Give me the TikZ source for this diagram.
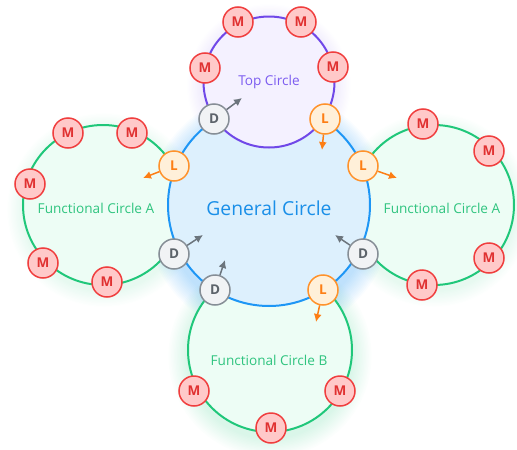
\documentclass[tikz,border=0pt]{standalone}
\usepackage{fontspec}
\setmainfont{Open Sans}
\usepackage{tikz}
\usetikzlibrary{arrows.meta, positioning}
\definecolor{genLine}{RGB}{30,150,245}
\definecolor{genFill}{RGB}{221,240,253}
\definecolor{genText}{RGB}{26,143,232}
\definecolor{topLine}{RGB}{112,72,232}
\definecolor{topFill}{RGB}{244,241,255}
\definecolor{topText}{RGB}{124,92,240}
\definecolor{funcLine}{RGB}{32,199,122}
\definecolor{funcFill}{RGB}{237,253,245}
\definecolor{funcText}{RGB}{47,196,127}
\definecolor{memLine}{RGB}{240,62,62}
\definecolor{memFill}{RGB}{255,201,201}
\definecolor{memText}{RGB}{224,49,49}
\definecolor{leadLine}{RGB}{255,146,43}
\definecolor{leadFill}{RGB}{255,240,217}
\definecolor{leadText}{RGB}{253,126,20}
\definecolor{delLine}{RGB}{134,142,150}
\definecolor{delFill}{RGB}{241,243,245}
\definecolor{delText}{RGB}{92,99,106}
\definecolor{arrGray}{RGB}{108,117,125}
\definecolor{arrOrange}{RGB}{253,126,20}
\tikzset{
    ring/.style={circle, line width=2pt, inner sep=0pt},
    circLabel/.style={font=\fontsize{13.6}{15}\selectfont},
    member/.style={circle, draw=memLine, fill=memFill, line width=1.5pt, minimum size=30pt, inner sep=0pt, text=memText, font=\bfseries\fontsize{13.5}{13.5}\selectfont},
    lead/.style={circle, draw=leadLine, fill=leadFill, line width=1.5pt, minimum size=30pt, inner sep=0pt, text=leadText, font=\bfseries\fontsize{13.5}{13.5}\selectfont},
    deleg/.style={circle, draw=delLine, fill=delFill, line width=1.5pt, minimum size=30pt, inner sep=0pt, text=delText, font=\bfseries\fontsize{13.5}{13.5}\selectfont},
    grayArrow/.style={-{Latex[length=8pt,width=8pt]}, line width=1.5pt, draw=arrGray, fill=arrGray},
    orangeArrow/.style={-{Latex[length=8pt,width=8pt]}, line width=1.5pt, draw=arrOrange, fill=arrOrange}
}

\begin{document}
\begin{tikzpicture}[x=1pt, y=-1pt]
    \useasboundingbox (0,0) rectangle (517,450);

    % soft glows
    \foreach \r in {1,...,14} {
        \fill[genLine, opacity=0.022] (269,214) circle (101+1.6*\r);
        \fill[funcLine, opacity=0.010] (270,356) circle (82+1.4*\r);
        \fill[funcLine, opacity=0.008] (104,210) circle (80+1.2*\r);
        \fill[funcLine, opacity=0.008] (434,210) circle (80+1.2*\r);
        \fill[topLine, opacity=0.008] (269,86) circle (65+1.2*\r);
    }

    % circles
    \node[ring, draw=funcLine, fill=funcFill, minimum size=160pt] (funcA) at (103,205) {};
    \node[ring, draw=funcLine, fill=funcFill, minimum size=160pt] (funcA2) at (434,205) {};
    \node[ring, draw=funcLine, fill=funcFill, minimum size=164pt] (funcB) at (270,350) {};
    \node[ring, draw=genLine, fill=genFill, minimum size=202pt] (general) at (269,205) {};
    \node[ring, draw=topLine, fill=topFill, minimum size=131pt] (top) at (269,82) {};

    % labels
    \node[font=\fontsize{19.3}{22}\selectfont, text=genText] (generalLbl) at (269,208) {General Circle};
    \node[circLabel, text=topText] (topLbl) at (269,82) {Top Circle};
    \node[circLabel, text=funcText] (funcALbl) at (96,208) {Functional Circle A};
    \node[circLabel, text=funcText] (funcA2Lbl) at (442,208) {Functional Circle A};
    \node[circLabel, text=funcText] (funcBLbl) at (269,360) {Functional Circle B};

    % members
    \node[member] (mT1) at (238,22) {M};
    \node[member] (mT2) at (301,22) {M};
    \node[member] (mT3) at (205,68) {M};
    \node[member] (mT4) at (333,67) {M};

    \node[member] (mA1) at (68,133) {M};
    \node[member] (mA2) at (132,133) {M};
    \node[member] (mA3) at (30,184) {M};
    \node[member] (mA4) at (43,263) {M};
    \node[member] (mA5) at (107,282) {M};

    \node[member] (mR1) at (423,124) {M};
    \node[member] (mR2) at (489,151) {M};
    \node[member] (mR3) at (489,258) {M};
    \node[member] (mR4) at (422,285) {M};

    \node[member] (mB1) at (194,391) {M};
    \node[member] (mB2) at (340,391) {M};
    \node[member] (mB3) at (271,428) {M};

    % links and delegates
    \node[deleg] (dTop) at (214,119) {D};
    \node[lead] (lTop) at (325,119) {L};
    \node[lead] (lLeft) at (174,166) {L};
    \node[lead] (lRight) at (363,166) {L};
    \node[deleg] (dLeft) at (174,254) {D};
    \node[deleg] (dRight) at (363,254) {D};
    \node[deleg] (dBot) at (215,290) {D};
    \node[lead] (lBot) at (323,290) {L};

    % arrow ends
    \coordinate (dTopTip) at (242,98);
    \coordinate (lTopTip) at (322,150);
    \coordinate (lLeftTip) at (143,178);
    \coordinate (lRightTip) at (397,178);
    \coordinate (dLeftTip) at (203,235);
    \coordinate (dRightTip) at (335,235);
    \coordinate (dBotTip) at (225,260);
    \coordinate (lBotTip) at (316,322);

    \draw[grayArrow] (dTop) -- (dTopTip);
    \draw[grayArrow] (dLeft) -- (dLeftTip);
    \draw[grayArrow] (dRight) -- (dRightTip);
    \draw[grayArrow] (dBot) -- (dBotTip);
    \draw[orangeArrow] (lTop) -- (lTopTip);
    \draw[orangeArrow] (lLeft) -- (lLeftTip);
    \draw[orangeArrow] (lRight) -- (lRightTip);
    \draw[orangeArrow] (lBot) -- (lBotTip);
\end{tikzpicture}
\end{document}
